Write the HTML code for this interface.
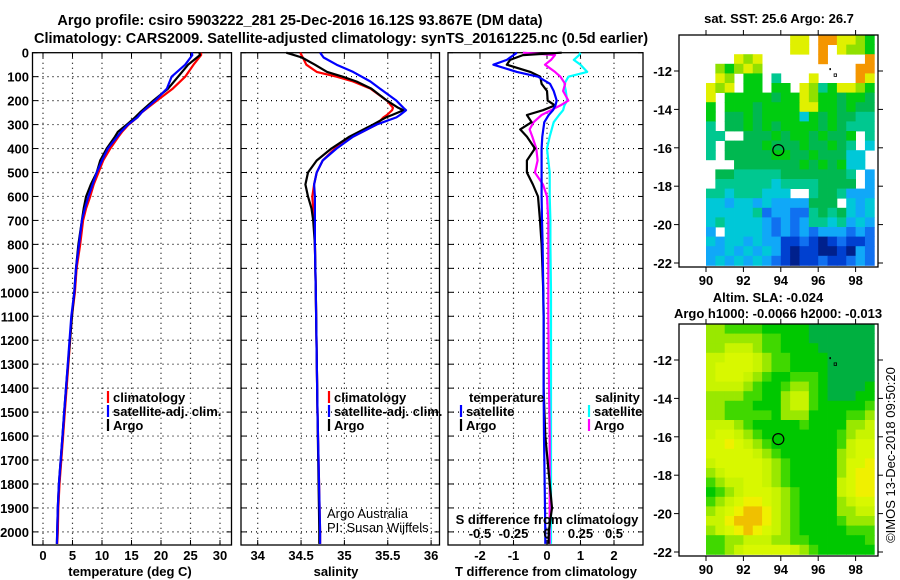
<!DOCTYPE html>
<html><head><meta charset="utf-8"><style>
html,body{margin:0;padding:0;background:#fff;}
svg{display:block;font-family:"Liberation Sans",sans-serif;}
.b{font-weight:bold;font-size:13px;}
</style></head><body>
<svg id="s" width="900" height="580" viewBox="0 0 900 580">
<text class="b" x="300" y="25" text-anchor="middle" style="font-size:14.5px">Argo profile: csiro 5903222_281 25-Dec-2016 16.12S 93.867E (DM data)</text>
<text class="b" x="341" y="43" text-anchor="middle" style="font-size:14.5px">Climatology: CARS2009. Satellite-adjusted climatology: synTS_20161225.nc (0.5d earlier)</text>
<text class="b" x="779" y="23" text-anchor="middle">sat. SST: 25.6 Argo: 26.7</text>
<text class="b" x="768" y="302" text-anchor="middle">Altim. SLA: -0.024</text>
<text class="b" x="778" y="318" text-anchor="middle">Argo h1000: -0.0066 h2000: -0.013</text>
<text x="895" y="455" transform="rotate(-90 895 455)" text-anchor="middle" style="font-size:13px">©IMOS 13-Dec-2018 09:50:20</text>
<g id="g"></g>
</svg>
<script>
// ---- profile data ----
const tDepth = [0,10,50,100,150,200,250,270,300,330,350,400,450,500,550,600,650,700,800,900,1000,1100,1400,1500,1600,1700,1800,1900,2000,2050];
const tArgo  = [26.5,26.6,24.6,22.9,21.2,18.7,16.4,15.6,14.2,12.7,12.2,10.8,9.7,9.1,8.1,7.3,6.9,6.6,6.0,5.6,5.3,4.9,3.9,3.6,3.3,3.0,2.7,2.5,2.4,2.35];
const tClim  = [26.8,26.8,25.5,24.1,22.0,19.3,16.7,16.0,14.5,13.4,12.8,11.4,10.2,9.4,8.6,8.0,7.3,6.8,6.3,5.7,5.4,4.9,4.0,3.7,3.4,3.1,2.8,2.6,2.5,2.4];
const tSat   = [25.2,25.3,24.1,21.8,21.0,19.0,16.7,16.0,14.4,13.2,12.6,11.0,10.0,9.1,8.4,7.7,7.1,6.6,6.1,5.6,5.3,4.8,3.9,3.6,3.3,3.0,2.7,2.5,2.4,2.35];
const sDepth = [0,20,50,80,100,120,150,200,230,240,260,270,300,350,400,450,500,550,600,650,700,800,1000,1500,2000,2050];
const sArgo  = [34.33,34.51,34.66,34.80,34.98,35.14,35.31,35.49,35.62,35.68,35.55,35.48,35.33,35.06,34.85,34.68,34.58,34.55,34.58,34.62,34.64,34.66,34.67,34.69,34.71,34.71];
const sClim  = [34.49,34.52,34.56,34.68,34.91,35.10,35.30,35.49,35.56,35.55,35.49,35.45,35.37,35.10,34.89,34.75,34.68,34.65,34.63,34.64,34.66,34.66,34.67,34.69,34.72,34.72];
const sSat   = [34.72,34.76,34.91,35.10,35.20,35.30,35.41,35.60,35.68,35.71,35.64,35.60,35.37,35.10,34.91,34.75,34.68,34.65,34.66,34.66,34.66,34.66,34.67,34.69,34.72,34.72];
const dDepth = [0,10,30,50,80,100,130,160,200,220,240,260,290,320,350,400,450,500,550,600,700,800,1000,1100,1400,1600,1900,2000,2050];
const dtArgo = [0.44,-0.72,-1.1,-1.2,-0.5,-0.2,-0.16,0,0.02,0.24,-0.12,-0.6,-0.46,-0.8,-0.6,-0.36,-0.6,-0.6,-0.42,-0.27,-0.21,-0.16,-0.11,-0.1,-0.1,-0.05,0.15,0.05,0.05];
const dtSat  = [-0.9,-1.0,-1.2,-1.6,-0.9,-0.27,0.09,0.2,0.29,0.25,0.18,0.05,-0.08,-0.11,-0.14,-0.16,-0.16,-0.16,-0.16,-0.16,-0.15,-0.13,-0.11,-0.1,-0.1,-0.09,-0.06,-0.05,-0.05];
const dsArgo = [-0.18,0.06,0.03,-0.015,0.06,0.1,0.135,0.12,0.16,0.1,0.03,-0.04,-0.1,-0.13,-0.11,-0.08,-0.07,-0.09,-0.03,0,0.01,0.01,0.01,0.01,0.015,0.02,0.02,0.02,0.02];
const dsSat  = [0.25,0.24,0.2,0.25,0.3,0.16,0.13,0.14,0.15,0.13,0.12,0.09,0.05,0.035,0.02,0,0.01,0.02,0.02,0.02,0.025,0.025,0.03,0.03,0.03,0.03,0.03,0.03,0.03];
const depthTicks = [0,100,200,300,400,500,600,700,800,900,1000,1100,1200,1300,1400,1500,1600,1700,1800,1900,2000];
const tTicks = [0,5,10,15,20,25,30];
const sTicks = [34,34.5,35,35.5,36];
const dtTicks = [-2,-1,0,1,2];
const dsTicks = ["-0.5","-0.25","0","0.25","0.5"];
// ---- map data (0.5 deg cells, lon 90..99, rows from north) ----
const sstPalette = ["#00208c","#0040d0","#1070f0","#10a8f8","#00c8d8","#00c890","#00b850","#00cc10","#90e000","#e0f000","#f49600"];
const sstRows = [
".........99.aa9987",".........99.a.9887","...989......a....a",".87898..........aa",
".98.77.5...9....a9","989.77.77.98579987","9.7777767798776776","7.7776777799776766",
"7.6676777747676655","5.6676767777676555","55..666767767667.5","5.66667666766765.4",
"5.666667766766644.","...66666667676744.",".665555566666665.3",".555555455556666.3",
"554555444..5665333","44344343333666.434","444445233225656434","454444323235545343",
"3.4444323232333232","434434331121012112","334343431011001032","343434321011211232"];
const slaPalette = ["#00b040","#00c800","#40d800","#99e800","#c8f400","#d8f800","#f0f000","#f0c000"];
const slaRows = [
"332222111110000000","333333221110000000","334443221111000000","445554322111100000",
"455554322111100000","455543211222100000","444432112332100001","333322113442100011",
"332221113442111112","332222213331111223","444321111121111334","455432111111112344",
"556543211111112455","555554321111113455","455555432111113556","345555432111113566",
"234455432111114566","123455543211114566","234566543211113455","345677643211113344",
"446777643211112333","345676543211111222","223344433221111112","223455555432111111"];
const lonTicks = [90,92,94,96,98];
const latTicks = [-12,-14,-16,-18,-20,-22];
const floatLon = 93.867, floatLat = -16.12;

const NS="http://www.w3.org/2000/svg";
const G=document.getElementById('g');
function el(t,a,p){const e=document.createElementNS(NS,t);for(const k in a)e.setAttribute(k,a[k]);(p||G).appendChild(e);return e;}
const yD = d => 52.7 + d*0.2396;
const BOT = 545;

function panel(name,x0,x1,gridXs){
  const g=el('g',{});
  
  
  depthTicks.forEach(d=>{
    if(d>0) el('line',{x1:x0,x2:x1,y1:yD(d),y2:yD(d),stroke:'#000','stroke-dasharray':'1 4','stroke-width':1.2},g);
    el('line',{x1:x0,x2:x0+5,y1:yD(d),y2:yD(d),stroke:'#000'},g);
    el('line',{x1:x1-5,x2:x1,y1:yD(d),y2:yD(d),stroke:'#000'},g);
  });
  gridXs.forEach(x=>{
    el('line',{x1:x,x2:x,y1:52.7,y2:BOT,stroke:'#000','stroke-dasharray':'1 4','stroke-width':1.2},g);
    el('line',{x1:x,x2:x,y1:BOT-5,y2:BOT,stroke:'#000'},g);
    el('line',{x1:x,x2:x,y1:52.7,y2:57.7,stroke:'#000'},g);
  });
  el('rect',{x:x0,y:52.7,width:x1-x0,height:BOT-52.7,fill:'none',stroke:'#000','stroke-width':1.3},g);
  return g;
}
function line(g,depths,vals,fx,color,name){
  const pts=depths.map((d,i)=>fx(vals[i]).toFixed(1)+','+yD(d).toFixed(1)).join(' ');
  const p=el('polyline',{points:pts,fill:'none',stroke:color,'stroke-width':2.2,'stroke-linejoin':'round'},g);
  
  
}
function txt(s,x,y,opt,parent){const t=el('text',Object.assign({x:x,y:y,class:'b'},opt||{}),parent);t.textContent=s;return t;}

depthTicks.forEach(d=>{txt(String(d),29,yD(d)+5,{'text-anchor':'end'});});

const fT = v => 43 + v*5.9;
const p1=panel('temperature-panel',32.5,231.5,tTicks.map(fT));
line(p1,tDepth,tClim,fT,'#ff0000','temp-climatology-line');
line(p1,tDepth,tArgo,fT,'#000000','temp-argo-line');
line(p1,tDepth,tSat,fT,'#0000ff','temp-satellite-line');
tTicks.forEach(v=>txt(String(v),fT(v),560,{'text-anchor':'middle'}));
txt('temperature (deg C)',130,576,{'text-anchor':'middle'});

const fS = v => 257.7 + (v-34)*86.7;
const p2=panel('salinity-panel',241,439.5,sTicks.map(fS));
line(p2,sDepth,sClim,fS,'#ff0000','sal-climatology-line');
line(p2,sDepth,sArgo,fS,'#000000','sal-argo-line');
line(p2,sDepth,sSat,fS,'#0000ff','sal-satellite-line');
sTicks.forEach(v=>txt(String(v),fS(v),560,{'text-anchor':'middle'}));
txt('salinity',336,576,{'text-anchor':'middle'});
txt('Argo Australia',327,518,{style:'font-weight:normal;font-size:13px'});
txt('PI: Susan Wijffels',327,532,{style:'font-weight:normal;font-size:13px'});

const fDT = v => 547 + v*33.5;
const fDS = v => 547 + v*134;
const p3=panel('difference-panel',448,643,dtTicks.map(fDT));
line(p3,dDepth,dsSat,fDS,'#00ffff','sal-diff-satellite-line');
line(p3,dDepth,dsArgo,fDS,'#ff00ff','sal-diff-argo-line');
line(p3,dDepth,dtArgo,fDT,'#000000','temp-diff-argo-line');
line(p3,dDepth,dtSat,fDT,'#0000ff','temp-diff-satellite-line');
dtTicks.forEach(v=>txt(String(v),fDT(v),560,{'text-anchor':'middle'}));
dsTicks.forEach(v=>txt(v,fDS(parseFloat(v)),538,{'text-anchor':'middle'}));
txt('S difference from climatology',547,524,{'text-anchor':'middle'});
txt('T difference from climatology',546,576,{'text-anchor':'middle'});

function legItem(x,y,color,label,name){
  const g=el('g',{});
  
  
  el('line',{x1:x,x2:x,y1:y-11,y2:y+1,stroke:color,'stroke-width':2.2},g);
  txt(label,x+5,y,{},g);
}
legItem(108,402,'#ff0000','climatology','legend-temp-climatology');
legItem(108,416,'#0000ff','satellite-adj. clim.','legend-temp-satellite');
legItem(108,430,'#000000','Argo','legend-temp-argo');
legItem(329,402,'#ff0000','climatology','legend-sal-climatology');
legItem(329,416,'#0000ff','satellite-adj. clim.','legend-sal-satellite');
legItem(329,430,'#000000','Argo','legend-sal-argo');
txt('temperature',469,402,{});
txt('salinity',595,402,{});
legItem(461,416,'#0000ff','satellite','legend-tdiff-satellite');
legItem(461,430,'#000000','Argo','legend-tdiff-argo');
legItem(589,416,'#00ffff','satellite','legend-sdiff-satellite');
legItem(589,430,'#ff00ff','Argo','legend-sdiff-argo');

function map(name,top,rows,pal){
  const bx0=679,bx1=878,by0=top,by1=top+232;
  const fx = lon => 706 + (lon-90)*18.7;
  const fy = lat => top+36 + (-12-lat)*19.2;
  const g=el('g',{});
  
  
  const latTop = -12 + 36/19.2;
  rows.forEach((r,i)=>{
    for(let j=0;j<r.length;j++){
      const c=r[j]; if(c==='.') continue;
      const x=fx(90+j*0.5), y=fy(latTop-i*0.5);
      const w=fx(90.5+j*0.5)-x, h=Math.min(fy(latTop-(i+1)*0.5),by1)-y;
      if(h<=0) continue;
      const cell=el('rect',{x:x.toFixed(2),y:y.toFixed(2),width:(w+0.4).toFixed(2),height:(h+0.4).toFixed(2),fill:pal[parseInt(c,16)]},g);
      
      
    }
  });
  el('rect',{x:bx0,y:by0,width:bx1-bx0,height:by1-by0,fill:'none',stroke:'#000','stroke-width':1.3},g);
  lonTicks.forEach(l=>{
    el('line',{x1:fx(l),x2:fx(l),y1:by1,y2:by1+5,stroke:'#000'},g);
    el('line',{x1:fx(l),x2:fx(l),y1:by0-5,y2:by0,stroke:'#000'},g);
    txt(String(l),fx(l),by1+18,{'text-anchor':'middle'},g);
  });
  latTicks.forEach(l=>{
    el('line',{x1:bx0-5,x2:bx0,y1:fy(l),y2:fy(l),stroke:'#000'},g);
    el('line',{x1:bx1,x2:bx1+5,y1:fy(l),y2:fy(l),stroke:'#000'},g);
    txt(String(l),672,fy(l)+5,{'text-anchor':'end'},g);
  });
  const c=el('circle',{cx:fx(floatLon),cy:fy(floatLat),r:5.5,fill:'none',stroke:'#000','stroke-width':1.2},g);
  
  
  el('rect',{x:fx(96.6),y:fy(-11.85),width:1.5,height:2,fill:'#000'},g);
  el('rect',{x:fx(96.85),y:fy(-12.15),width:2.5,height:2.5,fill:'none',stroke:'#000','stroke-width':0.8},g);
}
map('sst-map',35,sstRows,sstPalette);
map('sla-map',324,slaRows,slaPalette);
</script>
</body></html>
